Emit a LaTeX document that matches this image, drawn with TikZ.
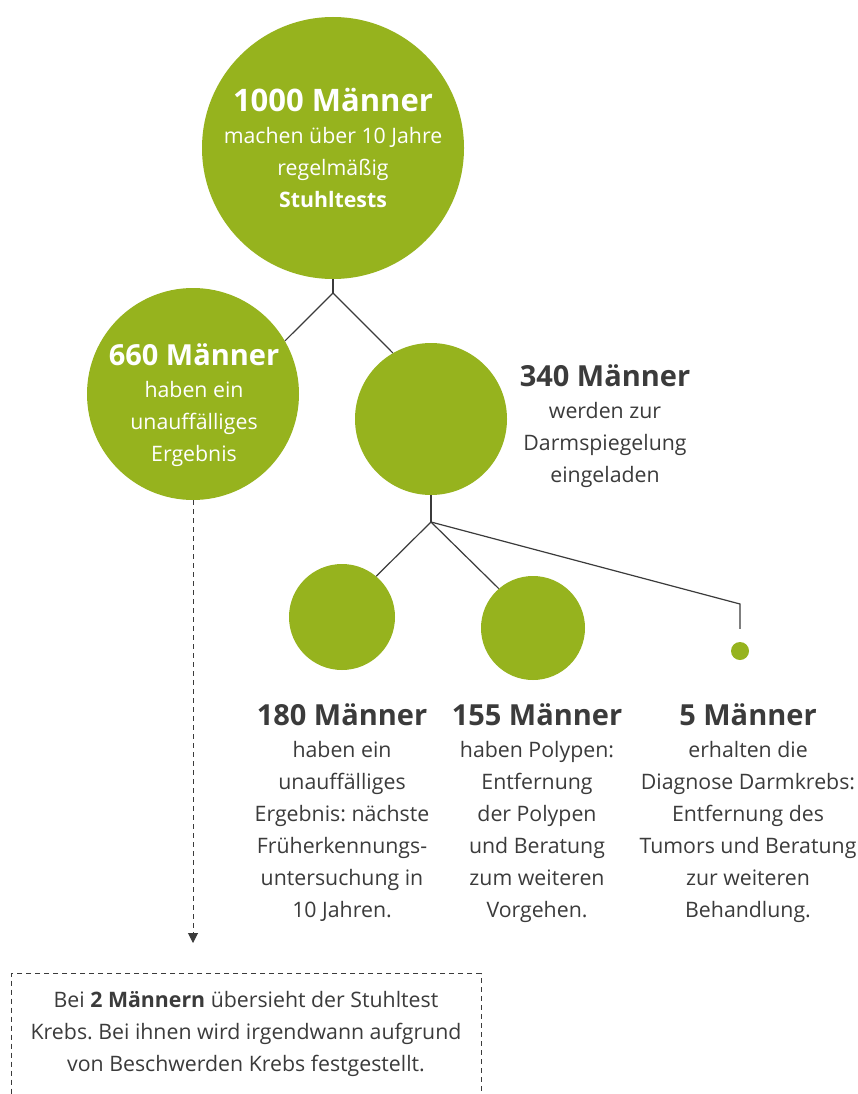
\documentclass[tikz,border=0pt]{standalone}
\usepackage{fontspec}
\setmainfont{Open Sans}
\usetikzlibrary{arrows.meta,positioning}
\definecolor{gruen}{HTML}{96B31E}
\definecolor{dunkel}{HTML}{3B3B3B}
\newcommand{\kopf}[1]{{\fontsize{29}{32}\selectfont\bfseries #1}}
\frenchspacing
\begin{document}
\begin{tikzpicture}[x=1pt,y=-1pt,>={Triangle[width=10pt,length=10pt]},
 kreis/.style={circle,fill=gruen,inner sep=0pt},
 lab/.style={align=center,text=dunkel,inner sep=0pt,font=\fontsize{21.3}{32}\selectfont},
 ast/.style={draw=dunkel,line width=1.2pt},
 strich/.style={draw=dunkel,line width=1pt,dash pattern=on 5pt off 4pt}]
 \useasboundingbox[fill=white] (0,0) rectangle (858,1094);
 \node[kreis,minimum size=262] (m1000) at (333,148) {};
 \node[kreis,minimum size=212] (m660) at (193,394) {};
 \node[kreis,minimum size=152] (m340) at (431,419) {};
 \node[kreis,minimum size=106] (m180) at (342,617) {};
 \node[kreis,minimum size=104] (m155) at (533,628) {};
 \node[kreis,minimum size=18] (m5) at (740,651) {};
 \node[lab,text=white] (t1000) at (333,148) {{\fontsize{31}{32}\selectfont\bfseries 1000 Männer}\\machen über 10 Jahre\\regelmäßig\\\textbf{Stuhltests}};
 \node[lab,text=white] (t660) at (194,405) {\kopf{660 Männer}\\haben ein\\unauffälliges\\Ergebnis};
 \node[lab] (t340) at (605,426) {\kopf{340 Männer}\\werden zur\\Darmspiegelung\\eingeladen};
 \node[lab,anchor=north] (t180) at (342,703) {\kopf{180 Männer}\\haben ein\\unauffälliges\\Ergebnis: nächste\\Früherkennungs-\\untersuchung in\\10 Jahren.};
 \node[lab,anchor=north] (t155) at (537,703) {\kopf{155 Männer}\\haben Polypen:\\Entfernung\\der Polypen\\und Beratung\\zum weiteren\\Vorgehen.};
 \node[lab,anchor=north] (t5) at (748,703) {\kopf{5 Männer}\\erhalten die\\Diagnose Darmkrebs:\\Entfernung des\\Tumors und Beratung\\zur weiteren\\Behandlung.};
 \coordinate (j1) at (333,293);
 \coordinate (j2) at (431,522);
 \coordinate (k5) at (740,604);
 \coordinate (pfeil) at (193,943);
 \draw[ast] (m1000.south)--(j1);
 \draw[ast] (j1)--(m660.30);
 \draw[ast] (j1)--(m340.120);
 \draw[ast] (m340.south)--(j2);
 \draw[ast] (j2)--(m180.50);
 \draw[ast] (j2)--(m155.131);
 \draw[ast] (j2)--(k5)--([yshift=13pt]m5.north);
 \draw[strich,->] (m660.south)--(pfeil);
 \node[strich,minimum width=470,minimum height=160,anchor=north] (kasten) at (246,973) {};
 \node[lab] (hinweis) at (246,1034) {Bei \textbf{2 Männern} übersieht der Stuhltest\\Krebs. Bei ihnen wird irgendwann aufgrund\\von Beschwerden Krebs festgestellt.};
\end{tikzpicture}
\end{document}
